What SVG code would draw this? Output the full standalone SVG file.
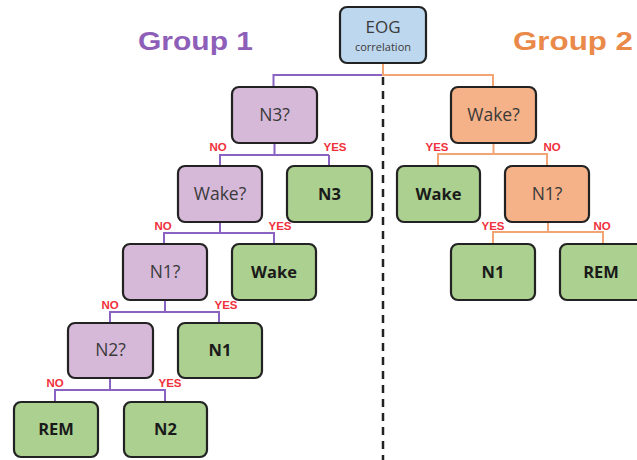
<svg xmlns="http://www.w3.org/2000/svg" width="637" height="460" viewBox="0 0 637 460">
<style>
.box{stroke:#222;stroke-width:2.2}
.pu{fill:#d6b9d9}
.gr{fill:#abd08f}
.or{fill:#f5b187}
.bl{fill:#bdd7ee}
.q{font-family:"Open Sans",sans-serif;font-size:17.5px;fill:#3a3a3a;text-anchor:middle}
.l{font-family:"Open Sans",sans-serif;font-size:16.5px;font-weight:bold;fill:#1a1a1a;text-anchor:middle}
.yn{font-family:"Liberation Sans",Arial,sans-serif;font-size:11.5px;font-weight:bold;fill:#f0303c;text-anchor:middle}
.cp{fill:none;stroke:#8a62c2;stroke-width:2}
.co{fill:none;stroke:#f2a474;stroke-width:2}
.grp{font-family:"Liberation Sans",Arial,sans-serif;font-size:25px;font-weight:bold}
</style>
<rect width="637" height="460" fill="#ffffff"/>
<text class="grp" x="138" y="50" fill="#8e5fb8" textLength="115" lengthAdjust="spacingAndGlyphs">Group 1</text>
<text class="grp" x="513" y="50" fill="#ea8a4a" textLength="120" lengthAdjust="spacingAndGlyphs">Group 2</text>
<line x1="383" y1="77" x2="383" y2="460" stroke="#222" stroke-width="2.5" stroke-dasharray="8 6"/>
<g id="connectors">
<path class="co" d="M383,63 V75 H493 V87"/>
<path class="cp" d="M382,75 H273.5 V87"/>
<path class="cp" d="M274.5,143 V155 M219,155 H329 M220,155 V166 M329,155 V166"/>
<path class="cp" d="M220,222 V233 M163,233 H275 M164,233 V244 M274,233 V244"/>
<path class="cp" d="M165,300 V312 M109,312 H220 M110,312 V323 M219,312 V323"/>
<path class="cp" d="M110,378 V390 M54,390 H166 M55,390 V402 M165,390 V402"/>
<path class="co" d="M493.5,143 V154 M437,154 H548 M438,154 V166 M547,154 V166"/>
<path class="co" d="M548,222 V232 M492,232 H604 M493,232 V244 M603,232 V244"/>
<text class="yn" x="218" y="151">NO</text>
<text class="yn" x="335" y="151">YES</text>
<text class="yn" x="163" y="230">NO</text>
<text class="yn" x="280" y="230">YES</text>
<text class="yn" x="110" y="309">NO</text>
<text class="yn" x="226" y="309">YES</text>
<text class="yn" x="55" y="387">NO</text>
<text class="yn" x="170" y="387">YES</text>
<text class="yn" x="437" y="151">YES</text>
<text class="yn" x="552" y="151">NO</text>
<text class="yn" x="493" y="230">YES</text>
<text class="yn" x="602" y="230">NO</text>
</g>
<g id="eog"><rect class="box bl" x="340" y="7" width="86" height="56" rx="7"/><text class="q" x="383" y="33" style="font-size:17px">EOG</text><text class="q" x="383" y="51" style="font-size:11px">correlation</text></g>
<g id="g1-n3q"><rect class="box pu" x="232" y="87" width="85" height="56" rx="7"/><text class="q" x="274.5" y="121">N3?</text></g>
<g id="g1-wakeq"><rect class="box pu" x="178" y="166" width="84" height="56" rx="7"/><text class="q" x="220" y="200">Wake?</text></g>
<g id="g1-n3"><rect class="box gr" x="287" y="166" width="85" height="56" rx="7"/><text class="l" x="329.5" y="200">N3</text></g>
<g id="g1-n1q"><rect class="box pu" x="123" y="244" width="84" height="56" rx="7"/><text class="q" x="165" y="278">N1?</text></g>
<g id="g1-wake"><rect class="box gr" x="232" y="244" width="84" height="56" rx="7"/><text class="l" x="274" y="278">Wake</text></g>
<g id="g1-n2q"><rect class="box pu" x="68" y="323" width="85" height="55" rx="7"/><text class="q" x="110.5" y="356">N2?</text></g>
<g id="g1-n1"><rect class="box gr" x="178" y="323" width="84" height="55" rx="7"/><text class="l" x="220" y="356">N1</text></g>
<g id="g1-rem"><rect class="box gr" x="14" y="402" width="84" height="55" rx="7"/><text class="l" x="56" y="435">REM</text></g>
<g id="g1-n2"><rect class="box gr" x="124" y="402" width="83" height="55" rx="7"/><text class="l" x="165.5" y="435">N2</text></g>
<g id="g2-wakeq"><rect class="box or" x="451" y="87" width="85" height="56" rx="7"/><text class="q" x="493.5" y="121">Wake?</text></g>
<g id="g2-wake"><rect class="box gr" x="397" y="166" width="83" height="56" rx="7"/><text class="l" x="438.5" y="200">Wake</text></g>
<g id="g2-n1q"><rect class="box or" x="505" y="166" width="84" height="56" rx="7"/><text class="q" x="547" y="200">N1?</text></g>
<g id="g2-n1"><rect class="box gr" x="451" y="244" width="84" height="56" rx="7"/><text class="l" x="493" y="278">N1</text></g>
<g id="g2-rem"><rect class="box gr" x="560" y="244" width="84" height="56" rx="7"/><text class="l" x="601" y="278">REM</text></g>
</svg>
